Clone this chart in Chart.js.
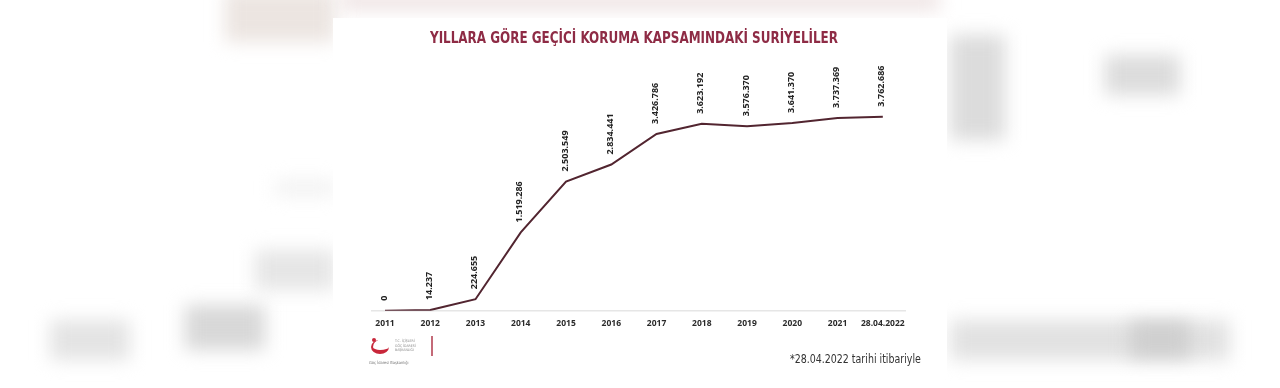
<!DOCTYPE html>
<html>
<head>
<meta charset="utf-8">
<script src="https://cdn.jsdelivr.net/npm/chart.js@4.4.1/dist/chart.umd.min.js"></script>
<style>
  html, body { margin: 0; padding: 0; width: 1280px; height: 388px; overflow: hidden; background: #ffffff; }
  .blur { position: absolute; filter: blur(9px); }
  #panel { position: absolute; left: 333px; top: 18px; width: 614px; height: 360px; background: #ffffff; }
  #chart { position: absolute; left: 0; top: 0; width: 614px; height: 360px; }
  #title { position: absolute; left: 301px; top: 10px; white-space: nowrap; font-family: "DejaVu Sans Condensed", "DejaVu Sans", sans-serif; font-weight: 700; font-size: 16px; line-height: 20px; color: #8e2b45; transform-origin: 0 50%; }
  #foot { position: absolute; right: 26px; top: 335px; font-family: "DejaVu Sans Condensed", sans-serif; font-size: 11px; color: #333; white-space: nowrap; transform-origin: 100% 50%; }
  #logo { position: absolute; left: 36px; top: 316px; width: 70px; height: 40px; }
  #logo .moon { position: absolute; left: 2px; top: 6px; width: 18px; height: 14px; border-radius: 50%; border-bottom: 4px solid #c8263a; border-left: 2px solid #c8263a; box-sizing: border-box; }
  #logo .star { position: absolute; left: 3px; top: 4px; width: 4px; height: 4px; background: #c8263a; border-radius: 50%; }
  #logo .t { position: absolute; left: 26px; top: 5px; font-family: "DejaVu Sans Condensed", sans-serif; font-size: 3.5px; line-height: 4.5px; color: #888; }
  #logo .bar { position: absolute; left: 62px; top: 2px; width: 1.5px; height: 20px; background: #c46a78; }
  #logo .sub { position: absolute; left: 0; top: 26px; font-family: "DejaVu Sans Condensed", sans-serif; font-size: 4px; color: #777; white-space: nowrap; }
</style>
</head>
<body>
<div class="blur" style="left:225px;top:-10px;width:110px;height:52px;background:#ece5e1;"></div>
<div class="blur" style="left:340px;top:-8px;width:600px;height:18px;background:#eee3e3;"></div>
<div class="blur" style="left:950px;top:35px;width:55px;height:105px;background:#dcdcdc;"></div>
<div class="blur" style="left:1105px;top:55px;width:75px;height:40px;background:#dcdcdc;"></div>
<div class="blur" style="left:275px;top:180px;width:60px;height:16px;background:#f2f2f2;"></div>
<div class="blur" style="left:255px;top:250px;width:80px;height:40px;background:#e6e6e6;"></div>
<div class="blur" style="left:185px;top:305px;width:80px;height:45px;background:#d8d8d8;"></div>
<div class="blur" style="left:50px;top:320px;width:80px;height:40px;background:#e4e4e4;"></div>
<div class="blur" style="left:950px;top:320px;width:280px;height:40px;background:#e2e2e2;"></div>
<div class="blur" style="left:1130px;top:322px;width:60px;height:35px;background:#cfcfcf;"></div>

<div id="panel">
  <canvas id="chart" width="614" height="360"></canvas>
  <div id="title"></div>
  <div id="logo">
    <div class="moon"></div><div class="star"></div>
    <div class="t">T.C. İÇİŞLERİ<br>GÖÇ İDARESİ<br>BAŞKANLIĞI</div>
    <div class="bar"></div>
    <div class="sub">Göç İdaresi Başkanlığı</div>
  </div>
  <div id="foot">*28.04.2022 tarihi itibariyle</div>
</div>

<script>
const categories = ["2011","2012","2013","2014","2015","2016","2017","2018","2019","2020","2021","28.04.2022"];
const values = [0, 14237, 224655, 1519286, 2503549, 2834441, 3426786, 3623192, 3576370, 3641370, 3737369, 3762686];
const valueLabels = ["0","14.237","224.655","1.519.286","2.503.549","2.834.441","3.426.786","3.623.192","3.576.370","3.641.370","3.737.369","3.762.686"];
const titleText = "YILLARA GÖRE GEÇİCİ KORUMA KAPSAMINDAKİ SURİYELİLER";

// title: condensed to the reference width (408px), centred at x=301 inside the panel
const titleEl = document.getElementById('title');
titleEl.textContent = titleText;
const tw = titleEl.getBoundingClientRect().width;
const sx = 408 / tw;
titleEl.style.left = (301 - 204) + 'px';
titleEl.style.transform = 'scaleX(' + sx + ')';

const footEl = document.getElementById('foot');
const fw = footEl.getBoundingClientRect().width;
footEl.style.transform = 'scaleX(' + (131 / fw) + ') scaleY(1.1)';

const pointLabels = {
  id: 'pointLabels',
  afterDatasetsDraw(chart) {
    const ctx = chart.ctx;
    const meta = chart.getDatasetMeta(0);
    ctx.save();
    ctx.font = '700 9px "Open Sans", sans-serif';
    ctx.fillStyle = '#222';
    ctx.textAlign = 'left';
    ctx.textBaseline = 'middle';
    meta.data.forEach((pt, i) => {
      ctx.save();
      ctx.translate(pt.x - 1, pt.y - 10);
      ctx.rotate(-Math.PI / 2);
      ctx.fillText(valueLabels[i], 0, 0);
      ctx.restore();
    });
    ctx.restore();
  }
};

new Chart(document.getElementById('chart'), {
  type: 'line',
  data: {
    datasets: [{
      data: values.map((v, i) => ({ x: i, y: v })),
      borderColor: '#522530',
      borderWidth: 2,
      pointRadius: 0,
      tension: 0,
      fill: false
    }]
  },
  options: {
    responsive: false,
    animation: false,
    events: [],
    layout: { padding: { left: 39, right: 42, top: 86.4, bottom: 41 } },
    plugins: {
      legend: { display: false },
      tooltip: { enabled: false },
      title: { display: false }
    },
    scales: {
      x: {
        type: 'linear',
        min: -0.287,
        max: 11.49,
        afterBuildTicks(scale) {
          scale.ticks = categories.map((c, i) => ({ value: i }));
        },
        ticks: {
          autoSkip: false,
          maxRotation: 0,
          padding: 8,
          color: '#2a2a2a',
          font: { family: '"Open Sans", sans-serif', size: 8.5, weight: '700' },
          callback: (v) => categories[v] ?? ''
        },
        grid: { display: false, drawTicks: false },
        border: { display: true, color: '#e6e6e6', width: 1.5 }
      },
      y: {
        display: false,
        min: 0,
        max: 4000000
      }
    }
  },
  plugins: [pointLabels]
});
</script>
</body>
</html>
